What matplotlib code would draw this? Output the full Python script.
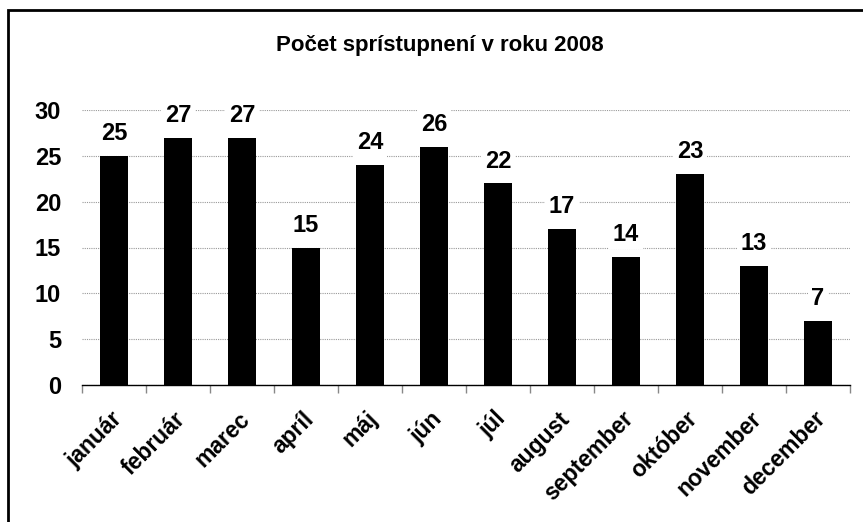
import matplotlib
matplotlib.use("Agg")
import matplotlib.pyplot as plt
from matplotlib.patches import Rectangle
from matplotlib.transforms import ScaledTranslation
import numpy as np

months = ["január", "február", "marec", "apríl", "máj", "jún", "júl",
          "august", "september", "október", "november", "december"]
values = [25, 27, 27, 15, 24, 26, 22, 17, 14, 23, 13, 7]
yticks = [0, 5, 10, 15, 20, 25, 30]
title = "Počet sprístupnení v roku 2008"

plt.rcParams['font.family'] = ['Liberation Sans', 'DejaVu Sans']
plt.rcParams['font.weight'] = 'bold'

fig = plt.figure(figsize=(8.63, 5.22), dpi=100)
ax = fig.add_axes([82/863, 1-385/522, (850-82)/863, (385-110)/522])

x = np.arange(len(months))
ax.bar(x, values, width=0.44, color='black', zorder=3)
ax.set_xlim(-0.5, len(months)-0.5)
ax.set_ylim(0, 30)
ax.set_yticks(yticks)
ax.set_yticklabels([str(t) for t in yticks], fontsize=17, fontweight='bold')
ax.yaxis.grid(True, linestyle=(0, (1, 1)), color='#999999', linewidth=0.8, zorder=0)
ax.tick_params(axis='y', length=0, pad=15)

ax.set_xticks(x)
ax.set_xticklabels(months, rotation=45, ha='right', va='top', rotation_mode='anchor',
                   fontsize=16.5, fontweight='bold')
ax.tick_params(axis='x', length=0, pad=16)
shift = ScaledTranslation(-4/100, 0, fig.dpi_scale_trans)
for lbl in ax.get_xticklabels():
    lbl.set_transform(lbl.get_transform() + shift)
ax.set_xticks(np.arange(len(months)+1)-0.5, minor=True)
ax.tick_params(axis='x', which='minor', length=6, color='#888888', width=1)

for s in ['left', 'right', 'top']:
    ax.spines[s].set_visible(False)
ax.spines['bottom'].set_color('black')
ax.spines['bottom'].set_linewidth(1)
ax.spines['bottom'].set_zorder(4)

for xi, v in zip(x, values):
    ax.annotate(str(v), (xi, v), xytext=(0, 16), textcoords='offset points',
                ha='center', va='center', fontsize=17, fontweight='bold', zorder=5,
                bbox=dict(boxstyle='square,pad=0.15', fc='white', ec='none'))

fig.text(440/863, 1-46/522, title, ha='center', va='center', fontsize=16, fontweight='bold')

fig.patches.append(Rectangle((8/863, -0.1), 1.2, 1-10/522+0.1, transform=fig.transFigure,
                             fill=False, ec='black', lw=2, zorder=10))

fig.savefig("out.png", dpi=100)
